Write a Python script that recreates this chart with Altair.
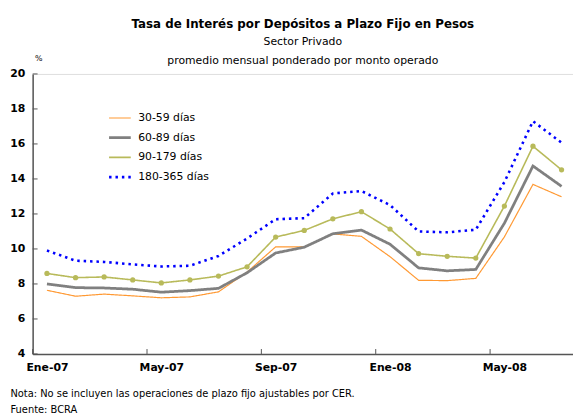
import altair as alt
import pandas as pd

months = ["Ene-07", "Feb-07", "Mar-07", "Abr-07", "May-07", "Jun-07", "Jul-07",
          "Ago-07", "Sep-07", "Oct-07", "Nov-07", "Dic-07", "Ene-08", "Feb-08",
          "Mar-08", "Abr-08", "May-08", "Jun-08", "Jul-08"]
series = ["30-59 días", "60-89 días", "90-179 días", "180-365 días"]
s30 = [7.64, 7.30, 7.42, 7.32, 7.21, 7.26, 7.55, 8.68, 10.12, 10.12, 10.86, 10.72, 9.56,
       8.21, 8.19, 8.32, 10.69, 13.69, 12.98]
s60 = [8.00, 7.79, 7.77, 7.70, 7.53, 7.62, 7.75, 8.64, 9.77, 10.10, 10.87, 11.08, 10.27,
       8.92, 8.75, 8.83, 11.47, 14.74, 13.58]
s90 = [8.60, 8.36, 8.40, 8.23, 8.06, 8.23, 8.45, 8.98, 10.68, 11.06, 11.72, 12.13, 11.14,
       9.73, 9.58, 9.48, 12.45, 15.87, 14.52]
s180 = [9.91, 9.33, 9.26, 9.12, 9.00, 9.04, 9.60, 10.60, 11.70, 11.76, 13.17, 13.31, 12.51,
        11.00, 10.95, 11.10, 13.82, 17.30, 16.07]
y_ticks = [4, 6, 8, 10, 12, 14, 16, 18, 20]
label_months = [0, 4, 8, 12, 16]
tick_bounds = [-0.5, 3.5, 7.5, 11.5, 15.5]

title = "Tasa de Interés por Depósitos a Plazo Fijo en Pesos"
subtitle = ["Sector Privado", "promedio mensual ponderado por monto operado"]
notes = ["Nota: No se incluyen las operaciones de plazo fijo ajustables por CER.",
         "Fuente: BCRA"]

colors = ["#FF9933", "#808080", "#B8BA5A", "#0000FF"]
dashes = [[1, 0], [1, 0], [1, 0], [2.5, 4]]
widths = [1.2, 2.8, 1.6, 2.6]

rows = []
for name, vals in zip(series, [s30, s60, s90, s180]):
    for i, v in enumerate(vals):
        rows.append({"i": i, "v": v, "serie": name})
df = pd.DataFrame(rows)

FONT = "DejaVu Sans"
AX = "#555555"

label_js = "[" + ",".join("'" + m + "'" for m in months) + "][datum.value]"

xscale = alt.Scale(domain=[-0.5, 18.4], nice=False, zero=False)
yscale = alt.Scale(domain=[4, 20], nice=False, zero=False)

xaxis = alt.Axis(values=label_months, labelExpr=label_js, ticks=False, grid=False,
                 domainColor=AX, domainWidth=1.5, labelFont=FONT, labelFontSize=11,
                 labelFontWeight="bold", labelColor="#000", labelPadding=8,
                 labelOverlap=False, title=notes, titleFont=FONT, titleFontSize=10,
                 titleFontWeight="normal", titleColor="#000", titleAngle=0,
                 titleAlign="left", titleBaseline="alphabetic", titleX=-23, titleY=43,
                 titleLineHeight=16)
yaxis = alt.Axis(values=y_ticks, ticks=False, grid=False, domainColor=AX, domainWidth=1.5,
                 labelFont=FONT, labelFontSize=11, labelFontWeight="bold", labelColor="#000",
                 labelPadding=8, title="%", titleFont=FONT, titleFontSize=8,
                 titleFontWeight="normal", titleColor="#000", titleAngle=0,
                 titleAlign="left", titleX=2, titleY=-12)

leg = alt.Legend(orient="none", legendX=76, legendY=35, title=None, symbolType="stroke",
                 symbolSize=484, clipHeight=19.3, rowPadding=0, padding=0,
                 labelFont=FONT, labelFontSize=11, labelColor="#000", labelOffset=6,
                 labelLimit=200)

base = alt.Chart(df).encode(
    x=alt.X("i:Q", scale=xscale, axis=xaxis),
    y=alt.Y("v:Q", scale=yscale, axis=yaxis),
)

lines = base.mark_line().encode(
    color=alt.Color("serie:N", scale=alt.Scale(domain=series, range=colors), legend=leg),
    strokeDash=alt.StrokeDash("serie:N", scale=alt.Scale(domain=series, range=dashes), legend=leg),
    strokeWidth=alt.StrokeWidth("serie:N", scale=alt.Scale(type="ordinal", domain=series, range=widths), legend=leg),
    order="i:Q",
)

points = base.transform_filter(alt.datum.serie == series[2]).mark_point(
    filled=True, size=28, color=colors[2], opacity=1
)

xt = alt.Chart(pd.DataFrame({"b": tick_bounds})).mark_rule(color=AX, strokeWidth=1).encode(
    x=alt.X("b:Q", scale=xscale, axis=xaxis), y=alt.value(279), y2=alt.value(284)
)
yt = alt.Chart(pd.DataFrame({"t": y_ticks})).mark_rule(color=AX, strokeWidth=1).encode(
    y=alt.Y("t:Q", scale=yscale, axis=yaxis), x=alt.value(0), x2=alt.value(5)
)

chart = alt.layer(lines, points, xt, yt).properties(
    width=548, height=284,
    autosize=alt.AutoSizeParams(type="none"),
    padding={"left": 25, "top": 64, "right": 0, "bottom": 58},
    title=alt.TitleParams(text=title, subtitle=subtitle, anchor="middle", font=FONT,
                          fontSize=12, fontWeight="bold", color="#000",
                          subtitleFont=FONT, subtitleFontSize=11, subtitleColor="#000",
                          subtitleLineHeight=19, subtitlePadding=6, offset=-13),
).configure_view(stroke=None).configure(background="white")

chart.save("out.html", embed_options={"renderer": "svg", "actions": False})
